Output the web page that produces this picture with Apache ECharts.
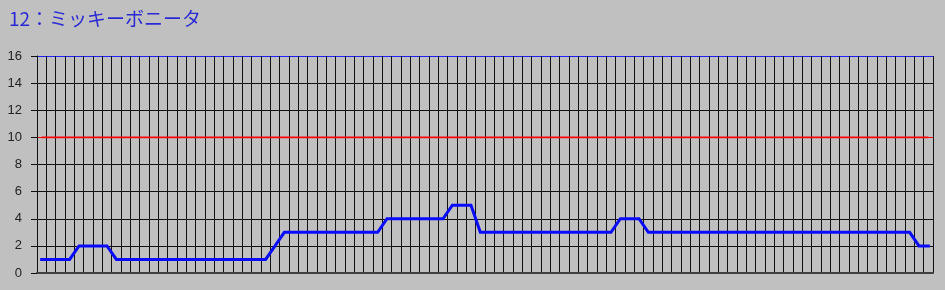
<!DOCTYPE html>
<html>
<head>
<meta charset="utf-8">
<script src="https://cdn.jsdelivr.net/npm/echarts@6/dist/echarts.min.js"></script>
<style>
html,body{margin:0;padding:0;background:#c0c0c0;}
#chart{width:945px;height:290px;}
</style>
</head>
<body>
<div id="chart"></div>
<script>
var titleText = '12：ミッキーボニータ';
var yTicks = [0, 2, 4, 6, 8, 10, 12, 14, 16];
var limitValue = 10;
var topValue = 16;
var values = [
  1,1,1,1,2,2,2,2,1,1,1,1,1,1,1,1,1,1,1,1,1,1,1,1,1,
  2,3,3,3,3,3,3,3,3,3,3,3,
  4,4,4,4,4,4,4,
  5,5,5,
  3,3,3,3,3,3,3,3,3,3,3,3,3,3,3,
  4,4,4,
  3,3,3,3,3,3,3,3,3,3,3,3,3,3,3,3,3,3,3,3,3,3,3,3,3,3,3,3,3,
  2,2
];
var categories = values.map(function (v, i) { return String(i + 1); });

var gridColors = yTicks.map(function (t) {
  return t === limitValue ? '#ff0000' : (t === topValue ? '#1f1fff' : '#111111');
});

function refLine(value, color, width) {
  return {
    type: 'line',
    data: [[0, value], [values.length - 1, value]],
    silent: true,
    showSymbol: false,
    symbol: 'none',
    z: 3,
    lineStyle: {color: color, width: width, type: 'solid'}
  };
}

var chart = echarts.init(document.getElementById('chart'), null, {renderer: 'canvas'});
chart.setOption({
  animation: false,
  backgroundColor: '#c0c0c0',
  title: {
    text: titleText,
    left: 4,
    top: 4,
    textStyle: {
      color: '#2a2ad4',
      fontSize: 19,
      fontWeight: 'normal',
      fontFamily: '"Noto Sans CJK JP", "Noto Sans", sans-serif'
    }
  },
  grid: {left: 37, right: 12, top: 56, bottom: 17, containLabel: false},
  xAxis: {
    type: 'category',
    data: categories,
    boundaryGap: true,
    axisLine: {show: true, lineStyle: {color: '#404040', width: 2}},
    axisTick: {show: false},
    axisLabel: {show: false},
    splitLine: {show: true, interval: 0, lineStyle: {color: '#111111', width: 1}}
  },
  yAxis: {
    type: 'value',
    min: yTicks[0],
    max: yTicks[yTicks.length - 1],
    interval: 2,
    axisLine: {show: true, lineStyle: {color: '#111111', width: 1}},
    axisTick: {show: true, length: 6, lineStyle: {color: '#111111'}},
    axisLabel: {
      margin: 15,
      color: '#222222',
      fontSize: 13,
      fontFamily: '"Liberation Sans", Arial, sans-serif'
    },
    splitLine: {show: true, lineStyle: {color: gridColors, width: 1}}
  },
  series: [
    refLine(limitValue, '#ff0000', 1.6),
    {
      type: 'line',
      data: values,
      showSymbol: false,
      symbol: 'none',
      z: 4,
      lineStyle: {color: '#0a0aff', width: 3, cap: 'square', join: 'miter'}
    }
  ]
});
</script>
</body>
</html>
